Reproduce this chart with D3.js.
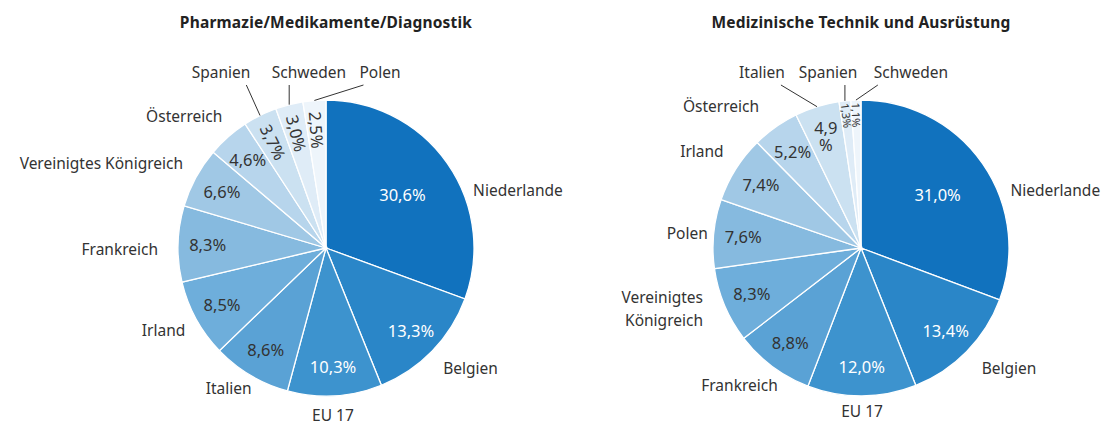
<!DOCTYPE html>
<html>
<head>
<meta charset="utf-8">
<script src="https://cdn.jsdelivr.net/npm/d3@7"></script>
<style>
  body { margin: 0; background: #fff; }
  svg { display: block; font-family: "Noto Sans", Lato, sans-serif; }
  .title { font-weight: bold; font-size: 15.5px; fill: #222; letter-spacing: 0.2px; }
  .lbl { font-size: 15.5px; fill: #333; }
  .pct { font-size: 16.5px; fill: #333; }
  .leader { stroke: #333; stroke-width: 1; fill: none; }
</style>
</head>
<body>
<svg id="chart" width="1105" height="421"></svg>
<script>
// Shares (%) per country, clockwise from 12 o'clock
const pharmaNames = ['Niederlande', 'Belgien', 'EU 17', 'Italien', 'Irland', 'Frankreich',
  'Vereinigtes Königreich', 'Österreich', 'Spanien', 'Schweden', 'Polen'];
const pharmaValues = [30.6, 13.3, 10.3, 8.6, 8.5, 8.3, 6.6, 4.6, 3.7, 3.0, 2.5];

const medtechNames = ['Niederlande', 'Belgien', 'EU 17', 'Frankreich', 'Vereinigtes Königreich',
  'Polen', 'Irland', 'Österreich', 'Italien', 'Spanien', 'Schweden'];
const medtechValues = [31.0, 13.4, 12.0, 8.8, 8.3, 7.6, 7.4, 5.2, 4.9, 1.3, 1.1];

const titles = ['Pharmazie/Medikamente/Diagnostik', 'Medizinische Technik und Ausrüstung'];

// slice shades, darkest first
const sliceColors = ['#1172be', '#2a86c8', '#3d93ce', '#5aa2d5', '#6eaedb', '#86badf',
  '#a0c8e5', '#b7d5ec', '#cbe1f1', '#dfecf7', '#eef5fb'];

const R = 148;
const CY = 248;

// layout tweaks per chart: outer label nudges, callout text offsets, wrapped texts
const layouts = [
  {
    cx: 326,
    nudge: { 'Niederlande': [11, 37], 'Belgien': [-2, 4], 'EU 17': [-3, 1], 'Italien': [10, -3],
      'Irland': [5, 2], 'Frankreich': [-2, 6], 'Vereinigtes Königreich': [3, -6], 'Österreich': [6, -7] },
    callout: { 'Spanien': -105, 'Schweden': -17, 'Polen': 54 },
    wrapName: [],
    wrapPct: []
  },
  {
    cx: 861,
    nudge: { 'Niederlande': [13, 37], 'Belgien': [2, 4], 'EU 17': [0, -3], 'Frankreich': [16, 4],
      'Vereinigtes Königreich': [-5, -4], 'Polen': [12, 1], 'Irland': [3, -8], 'Österreich': [-6, -7] },
    callout: { 'Italien': -99, 'Spanien': -33, 'Schweden': 50 },
    wrapName: ['Vereinigtes Königreich'],
    wrapPct: ['Italien']
  }
];

const svg = d3.select('#chart');
const fmt = (v) => v.toFixed(1).replace('.', ',') + '%';

function drawPie(names, values, title, lay) {
  const g = svg.append('g').attr('transform', `translate(${lay.cx},${CY})`);
  const rows = names.map((n, i) => ({ name: n, value: values[i], idx: i }));

  const pie = d3.pie().sort(null).value((d) => d.value);
  const arcs = pie(rows);
  const arc = d3.arc().innerRadius(0).outerRadius(R);

  svg.append('text').attr('class', 'title')
    .attr('x', lay.cx).attr('y', 22).attr('text-anchor', 'middle')
    .attr('dominant-baseline', 'central').text(title);

  g.selectAll('path.slice').data(arcs).join('path')
    .attr('class', 'slice')
    .attr('d', arc)
    .attr('fill', (d) => sliceColors[d.data.idx])
    .attr('stroke', '#fff').attr('stroke-width', 1.3);

  const mid = (d) => (d.startAngle + d.endAngle) / 2;
  const polar = (a, r) => [Math.sin(a) * r, -Math.cos(a) * r];

  // percentages inside the slices
  arcs.forEach((d) => {
    const a = mid(d);
    const v = d.data.value;
    const small = v < 2;
    const rr = d.data.idx === 0 ? R * 0.63 : (small ? R * 0.9 : R * 0.8);
    const [x, y] = polar(a, rr);
    const t = g.append('text').attr('class', 'pct')
      .attr('text-anchor', 'middle').attr('dominant-baseline', 'central')
      .style('fill', d.data.idx < 3 ? '#fff' : '#333')
      .style('font-size', small ? '11px' : null);
    if (v < 4) {
      // narrow slices: text runs along the radius
      const deg = a * 180 / Math.PI - 270;
      t.attr('transform', `translate(${x},${y}) rotate(${deg})`).text(fmt(v));
    } else if (lay.wrapPct.includes(d.data.name)) {
      const s = fmt(v);
      t.append('tspan').attr('x', x).attr('y', y - 8).text(s.slice(0, -1));
      t.append('tspan').attr('x', x).attr('y', y + 9).text('%');
    } else {
      t.attr('x', x).attr('y', y).text(fmt(v));
    }
  });

  // country names outside
  arcs.forEach((d) => {
    const a = mid(d);
    const name = d.data.name;
    if (name in lay.callout) {
      const ty = -R - 28;
      const tx = lay.callout[name];
      const t = g.append('text').attr('class', 'lbl')
        .attr('x', tx).attr('y', ty).attr('text-anchor', 'middle')
        .attr('dominant-baseline', 'central').text(name);
      const w = t.node().getComputedTextLength();
      const [ex, ey] = polar(a, R);
      const lx = Math.max(tx - w / 2 + 4, Math.min(tx + w / 2 - 4, ex));
      g.append('line').attr('class', 'leader')
        .attr('x1', ex).attr('y1', ey).attr('x2', lx).attr('y2', ty + 13);
      return;
    }
    const s = Math.sin(a);
    const anchor = s > 0.3 ? 'start' : (s < -0.3 ? 'end' : 'middle');
    const [px, py] = polar(a, R + 18);
    const [dx, dy] = lay.nudge[name] || [0, 0];
    const t = g.append('text').attr('class', 'lbl')
      .attr('text-anchor', anchor).attr('dominant-baseline', 'central');
    if (lay.wrapName.includes(name)) {
      const parts = name.split(' ');
      parts.forEach((p, k) => {
        t.append('tspan').attr('x', px + dx)
          .attr('y', py + dy + (k - (parts.length - 1) / 2) * 23).text(p);
      });
    } else {
      t.attr('x', px + dx).attr('y', py + dy).text(name);
    }
  });
}

drawPie(pharmaNames, pharmaValues, titles[0], layouts[0]);
drawPie(medtechNames, medtechValues, titles[1], layouts[1]);
</script>
</body>
</html>
